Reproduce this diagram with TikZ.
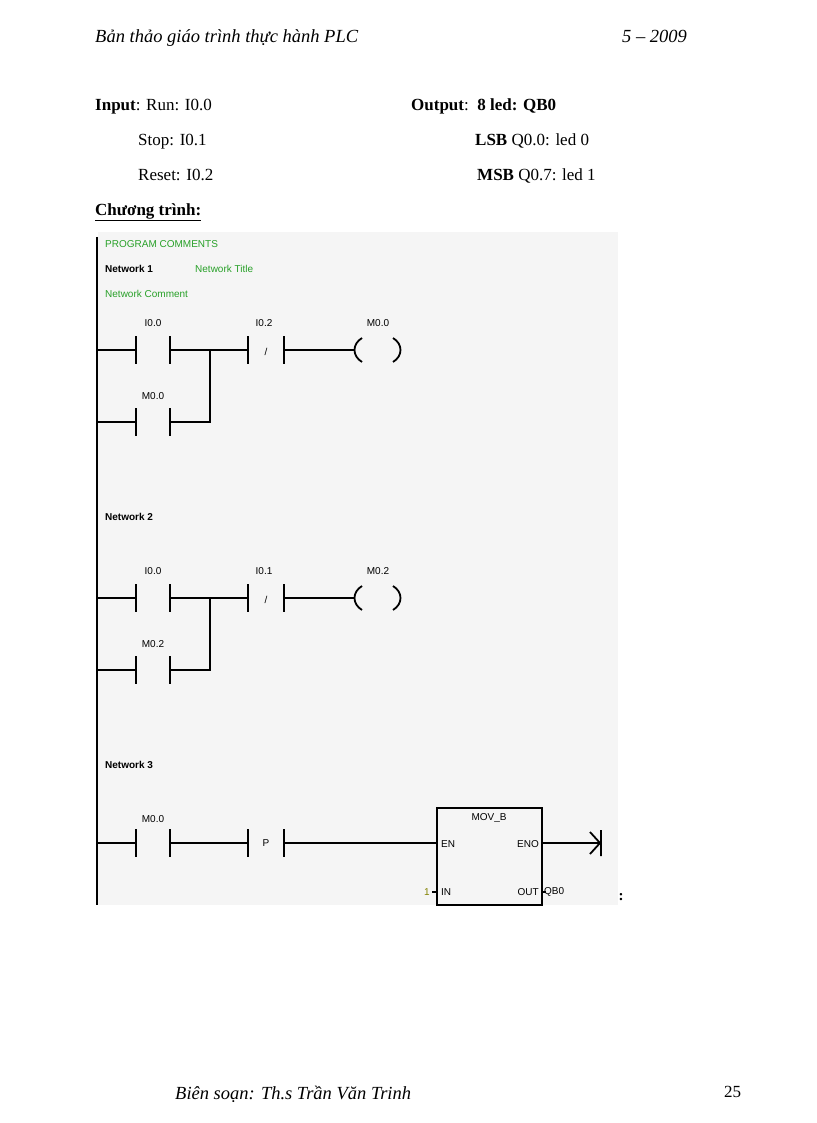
\documentclass[tikz,border=0pt]{standalone}
\usepackage{fontspec}
\setmainfont{Liberation Serif}
\newfontfamily\lad{Liberation Sans}
\begin{document}
\begin{tikzpicture}[x=1pt,y=-1pt,
 txt/.style={anchor=base west,inner sep=0,font=\fontsize{17}{19}\selectfont},
 itx/.style={anchor=base west,inner sep=0,font=\itshape\fontsize{18.5}{20}\selectfont},
 lbl/.style={inner sep=0,font=\lad\fontsize{10}{12}\selectfont},
 grn/.style={lbl,anchor=west,text={rgb,255:red,40;green,160;blue,40}},
 wire/.style={line width=1.8pt},
 bar/.style={line width=1.8pt}]
\useasboundingbox (0,0) rectangle (816,1123);
% header/footer
\node[itx] (h1) at (95,43) {Bản thảo giáo trình thực hành PLC};
\node[itx] (h2) at (622,43) {5 – 2009};
\node[itx] (f1) at (175,1099) {Biên soạn: Th.s Trần Văn Trinh};
\node[txt] (f2) at (724,1097) {25};
% io text
\node[txt] (i1) at (95,111) {\textbf{Input}: Run: I0.0};
\node[txt] (i2) at (138,146) {Stop: I0.1};
\node[txt] (i3) at (138,181) {Reset: I0.2};
\node[txt] (o1) at (411,111) {\textbf{Output}:\ \ \textbf{8 led: QB0}};
\node[txt] (o2) at (475,146) {\textbf{LSB} Q0.0: led 0};
\node[txt] (o3) at (477,181) {\textbf{MSB} Q0.7: led 1};
\node[txt] (ct) at (95,215) {\textbf{\underline{Chương trình:}}};
% ladder
\fill[black!4] (98,232) rectangle (618,905);
\coordinate (railT) at (97,237); \coordinate (railB) at (97,905);
\draw[line width=2pt] (railT) -- (railB);
\node[grn] (pc) at (105,244) {PROGRAM COMMENTS};
\node[lbl,anchor=west] (n1) at (105,269) {\bfseries Network 1};
\node[grn] (nt) at (195,269) {Network Title};
\node[grn] (nc) at (105,294) {Network Comment};
\node[lbl,anchor=west] (n2) at (105,517) {\bfseries Network 2};
\node[lbl,anchor=west] (n3) at (105,765) {\bfseries Network 3};
% networks 1 and 2
\foreach \y/\a/\b/\c/\d in {350/I0.0/I0.2/M0.0/M0.0, 598/I0.0/I0.1/M0.2/M0.2}{
 \pgfmathsetmacro{\yy}{\y+72}
 \draw[wire] (97,\y) -- (136,\y) (170,\y) -- (248,\y) (284,\y) -- (355,\y);
 \draw[wire] (97,\yy) -- (136,\yy) (170,\yy) -- (210,\yy) -- (210,\y);
 \foreach \yc in {\y,\yy}{\draw[bar] (136,\yc-14) -- (136,\yc+14) (170,\yc-14) -- (170,\yc+14);}
 \draw[bar] (248,\y-14) -- (248,\y+14) (284,\y-14) -- (284,\y+14);
 \node[lbl] at (266,\y+2) {/};
 \draw[line width=1.8pt] (362,\y-12) .. controls (352,\y-6) and (352,\y+6) .. (362,\y+12);
 \draw[line width=1.8pt] (393,\y-12) .. controls (403,\y-6) and (403,\y+6) .. (393,\y+12);
 \node[lbl] at (153,\y-27) {\a};
 \node[lbl] at (264,\y-27) {\b};
 \node[lbl] at (378,\y-27) {\c};
 \node[lbl] at (153,\yy-26) {\d};
}
% network 3
\node[draw,line width=1.3pt,minimum width=105pt,minimum height=97pt,inner sep=0] (box) at (489.5,856.5) {};
\node[lbl] at (489,818) {MOV\_B};
\node[lbl,anchor=west] (en) at (441,844) {EN};
\node[lbl,anchor=east] (eno) at (539,844) {ENO};
\node[lbl,anchor=west] (in) at (441,892) {IN};
\node[lbl,anchor=east] (out) at (539,892) {OUT};
\node[lbl,anchor=east,text={rgb,255:red,130;green,130;blue,0}] (one) at (430,892) {1};
\node[lbl,anchor=west] (qb) at (544,892) {QB0};
\draw[wire] (97,843) -- (136,843) (170,843) -- (248,843) (284,843) -- (437,843);
\draw[bar] (136,829) -- (136,857) (170,829) -- (170,857) (248,829) -- (248,857) (284,829) -- (284,857);
\node[lbl] at (266,843) {P};
\node[lbl] at (153,819) {M0.0};
\draw[line width=1.3pt] (432,892) -- (437,892) (542,892) -- (546,892);
\coordinate (endp) at (600,843);
\draw[wire] (542,843) -- (endp);
\draw[line width=1.8pt] (590,832) -- (endp) -- (590,854) (601,830) -- (601,856);
\node[font=\bfseries\fontsize{15}{17}\selectfont] (col) at (621,897) {:};
\end{tikzpicture}
\end{document}
